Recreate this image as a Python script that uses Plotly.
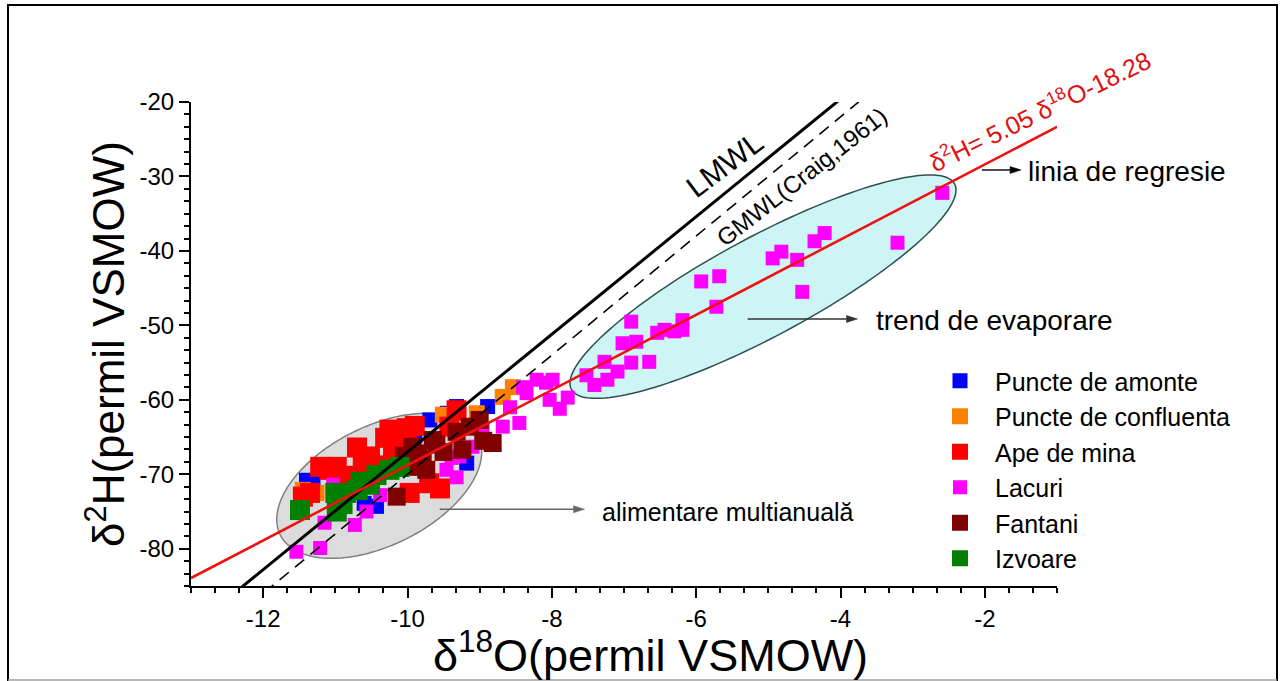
import numpy as np
import plotly.graph_objects as go

# ---------------- data ----------------
amonte_x = [-11.40, -11.31, -10.43, -10.01, -9.90, -9.69, -9.32, -8.89, -9.18, -10.60, -9.45]
amonte_y = [-70.8, -71.0, -74.3, -65.4, -64.8, -62.7, -60.9, -60.9, -68.5, -73.9, -61.8]

confluenta_x = [-11.45, -11.26, -10.76, -10.90, -9.51, -9.04, -8.68, -8.54]
confluenta_y = [-72.1, -72.5, -70.1, -71.0, -62.0, -61.8, -59.6, -58.3]

mina_x = [-11.45, -11.35, -11.21, -11.08, -10.98, -10.84, -10.70, -10.62, -10.52, -10.38, -10.31,
          -10.25, -10.20, -10.13, -10.01, -9.97, -9.90, -9.70, -9.55, -9.42, -9.32]
mina_y = [-73.0, -72.5, -69.0, -69.4, -69.0, -70.2, -66.4, -69.0, -67.6, -68.8, -65.1,
          -64.0, -67.4, -65.4, -63.8, -72.5, -63.5, -71.2, -71.9, -63.6, -61.4]

lacuri_x = [-11.54, -11.21, -11.15, -10.98, -10.73, -10.57, -10.38, -11.03, -9.46, -9.39, -9.32,
            -9.28, -9.10, -8.96, -8.68, -8.58, -8.45, -8.40, -8.35, -8.21, -8.08, -8.03, -7.99,
            -7.89, -7.78, -7.52, -7.41, -7.27, -7.23, -7.09, -7.02, -6.90, -6.90, -6.83, -6.65,
            -6.54, -6.44, -6.30, -6.19, -6.19, -5.93, -5.72, -5.68, -4.94, -4.82, -4.60, -4.53,
            -4.36, -4.22, -3.21, -2.59]
lacuri_y = [-80.4, -79.9, -76.5, -74.8, -76.8, -75.0, -72.8, -71.4, -69.4, -67.8, -70.4,
            -67.6, -66.3, -64.0, -63.6, -61.0, -63.1, -58.3, -59.1, -57.3, -57.7, -60.0, -57.3,
            -61.2, -59.7, -56.7, -58.0, -54.9, -57.3, -56.2, -52.4, -55.0, -49.5, -52.2, -54.9,
            -51.0, -50.6, -50.8, -49.3, -50.6, -44.1, -47.5, -43.4, -41.0, -40.1, -41.2, -45.5,
            -38.7, -37.6, -38.9, -32.2]

fantani_x = [-10.15, -10.05, -9.95, -9.93, -9.85, -9.79, -9.74, -9.65, -9.60, -9.50, -9.32,
             -9.24, -9.14, -9.00, -8.82, -8.95]
fantani_y = [-73.0, -67.5, -69.0, -66.3, -67.2, -68.1, -69.4, -65.4, -66.0, -67.0, -64.3,
             -66.7, -63.6, -62.7, -65.8, -65.5]

izvoare_x = [-11.49, -11.00, -10.98, -10.90, -10.85, -10.69, -10.65, -10.52, -10.43, -10.25, -10.11]
izvoare_y = [-74.8, -72.5, -75.0, -74.0, -72.5, -72.1, -71.0, -71.4, -70.1, -69.4, -69.0]

# water lines: slope, intercept
lmwl_coef = (7.9, 12.0)
gmwl_coef = (8.0, 10.0)
regr_coef = (5.05, -18.28)

x_ticks = [-12, -10, -8, -6, -4, -2]
y_ticks = [-80, -70, -60, -50, -40, -30, -20]

# ---------------- layout geometry ----------------
FIG_W, FIG_H = 1284, 681
X_RANGE = [-13, -1]
Y_RANGE = [-85, -20]
M_L, M_R, M_T, M_B = 191, 227, 102, 95
PW = FIG_W - M_L - M_R
PH = FIG_H - M_T - M_B
PX_X = PW / (X_RANGE[1] - X_RANGE[0])
PX_Y = PH / (Y_RANGE[1] - Y_RANGE[0])

FONT = "Liberation Sans, Arial, sans-serif"


def ellipse_path(cx, cy, a_px, b_px, theta_deg, n=160):
    t = np.linspace(0, 2 * np.pi, n)
    th = np.radians(theta_deg)
    u = a_px * np.cos(t)
    v = b_px * np.sin(t)
    dx = u * np.cos(th) - v * np.sin(th)
    dy = u * np.sin(th) + v * np.cos(th)
    xs = cx + dx / PX_X
    ys = cy + dy / PX_Y
    return "M " + " L ".join(f"{a:.4f},{b:.4f}" for a, b in zip(xs, ys)) + " Z"


def arrow_shapes(x0, y0, x1, y1, color, width=1.4, head_len=11, head_w=7):
    dxp = (x1 - x0) * PX_X
    dyp = (y1 - y0) * PX_Y
    L = float(np.hypot(dxp, dyp))
    ux, uy = dxp / L, dyp / L
    bx = x1 - ux * head_len / PX_X
    by = y1 - uy * head_len / PX_Y
    px_, py_ = -uy, ux
    p1 = (bx + px_ * head_w / 2 / PX_X, by + py_ * head_w / 2 / PX_Y)
    p2 = (bx - px_ * head_w / 2 / PX_X, by - py_ * head_w / 2 / PX_Y)
    return [
        dict(type="line", xref="x", yref="y", x0=x0, y0=y0, x1=bx, y1=by,
             line=dict(color=color, width=width)),
        dict(type="path", xref="x", yref="y",
             path=f"M {x1},{y1} L {p1[0]},{p1[1]} L {p2[0]},{p2[1]} Z",
             fillcolor=color, line=dict(color=color, width=0.5)),
    ]


fig = go.Figure()

series = [
    ("Puncte de amonte", amonte_x, amonte_y, "#0000ff", 15),
    ("Puncte de confluenta", confluenta_x, confluenta_y, "#ff8000", 16),
    ("Ape de mina", mina_x, mina_y, "#ff0000", 20),
    ("Lacuri", lacuri_x, lacuri_y, "#ff00ff", 14),
    ("Fantani", fantani_x, fantani_y, "#800000", 18),
    ("Izvoare", izvoare_x, izvoare_y, "#008000", 20),
]
for i, (name, xs, ys, col, sz) in enumerate(series):
    fig.add_trace(go.Scatter(
        x=xs, y=ys, mode="markers", name=name, legendgroup=f"g{i}",
        marker=dict(symbol="square", size=sz, color=col, line=dict(width=0)),
    ))


def line_xy(coef, x0, x1):
    xs = np.array([x0, x1])
    return xs, coef[0] * xs + coef[1]


lx, ly = line_xy(lmwl_coef, -12.6, -3.5)
fig.add_trace(go.Scatter(x=lx, y=ly, mode="lines", showlegend=False,
                         line=dict(color="black", width=3)))
gx, gy = line_xy(gmwl_coef, -12.2, -3.6)
fig.add_trace(go.Scatter(x=gx, y=gy, mode="lines", showlegend=False,
                         line=dict(color="black", width=1.6, dash="12px,8px")))
rx, ry = line_xy(regr_coef, -13, -1)
fig.add_trace(go.Scatter(x=rx, y=ry, mode="lines", showlegend=False,
                         line=dict(color="#ee1111", width=2.6)))

shapes = [
    dict(type="path", xref="x", yref="y", layer="below",
         path=ellipse_path(-10.392, -71.54, 110.5, 59.6, 26.4),
         fillcolor="#dcdcdc", line=dict(color="#808080", width=1.5)),
    dict(type="path", xref="x", yref="y", layer="below",
         path=ellipse_path(-5.074, -44.80, 217.4, 49.8, 28.2),
         fillcolor="#cdf5f5", line=dict(color="#2f4f4f", width=1.5)),
    dict(type="rect", xref="paper", yref="paper",
         x0=(8 - M_L) / PW, x1=(1277 - M_L) / PW,
         y0=-(690 - (FIG_H - M_B)) / PH, y1=(FIG_H - M_B - 5) / PH,
         line=dict(color="black", width=2), fillcolor="rgba(0,0,0,0)"),
    dict(type="line", xref="paper", yref="paper",
         x0=(8 - M_L) / PW, x1=(1277 - M_L) / PW,
         y0=-(680 - (FIG_H - M_B)) / PH, y1=-(680 - (FIG_H - M_B)) / PH,
         line=dict(color="#a0a0a0", width=1.5)),
]
shapes += arrow_shapes(-2.04, -29.13, -1.498, -29.13, "black")
shapes += arrow_shapes(-5.286, -49.14, -3.764, -49.14, "#333333")
shapes += arrow_shapes(-9.554, -74.70, -7.547, -74.70, "#666666")

ann = []


def txt(x, y, text, size, angle=0, color="black", xanchor="center"):
    ann.append(dict(x=x, y=y, xref="x", yref="y", text=text, showarrow=False,
                    textangle=angle, xanchor=xanchor, yanchor="middle",
                    font=dict(family=FONT, size=size, color=color)))


txt(-5.609, -28.33, "LMWL", 30, -37)
txt(-4.53, -30.07, "GMWL(Craig,1961)", 24, -38)
txt(-1.237, -21.06, "δ<sup>2</sup>H= 5.05 δ<sup>18</sup>O-18.28", 25, -26, color="#e01010")
txt(-1.429, -29.4, "linia de regresie", 28, xanchor="left")
txt(-3.533, -49.41, "trend de evaporare", 28, xanchor="left")
txt(-7.339, -75.02, "alimentare multianuală", 25, xanchor="left")

# axis titles
ann.append(dict(x=(105 - M_L) / PW, y=0.5, xref="paper", yref="paper",
                text="δ<sup>2</sup>H(permil VSMOW)", showarrow=False, textangle=-90,
                xanchor="center", yanchor="middle", font=dict(family=FONT, size=44, color="black")))
ann.append(dict(x=(650 - M_L) / PW, y=-(652 - (FIG_H - M_B)) / PH, xref="paper", yref="paper",
                text="δ<sup>18</sup>O(permil VSMOW)", showarrow=False,
                xanchor="center", yanchor="middle", font=dict(family=FONT, size=45, color="black")))

axis_common = dict(
    showgrid=False, zeroline=False, showline=True, linecolor="black", linewidth=2,
    ticks="outside", ticklen=10, tickwidth=1.5, tickcolor="black",
    tickfont=dict(family=FONT, size=24, color="black"), mirror=False,
)
fig.update_layout(
    width=FIG_W, height=FIG_H,
    margin=dict(l=M_L, r=M_R, t=M_T, b=M_B, autoexpand=False),
    paper_bgcolor="white", plot_bgcolor="white",
    xaxis=dict(range=X_RANGE, tickmode="array", tickvals=x_ticks,
               ticktext=[str(v) for v in x_ticks],
               minor=dict(dtick=1 / 3, tick0=-13, ticks="outside", ticklen=5,
                          tickwidth=1.5, tickcolor="black"),
               **axis_common),
    yaxis=dict(range=Y_RANGE, tickmode="array", tickvals=y_ticks,
               ticktext=[str(v) for v in y_ticks],
               minor=dict(dtick=10 / 6, tick0=-80, ticks="outside", ticklen=5,
                          tickwidth=1.5, tickcolor="black"),
               **axis_common),
    legend=dict(x=(925 - M_L) / PW, y=(FIG_H - M_B - 358) / PH,
                xanchor="left", yanchor="top", bgcolor="rgba(0,0,0,0)",
                font=dict(family=FONT, size=25, color="black"),
                tracegroupgap=0, itemwidth=60),
    shapes=shapes, annotations=ann, showlegend=True,
)

fig.write_html("out.html")
